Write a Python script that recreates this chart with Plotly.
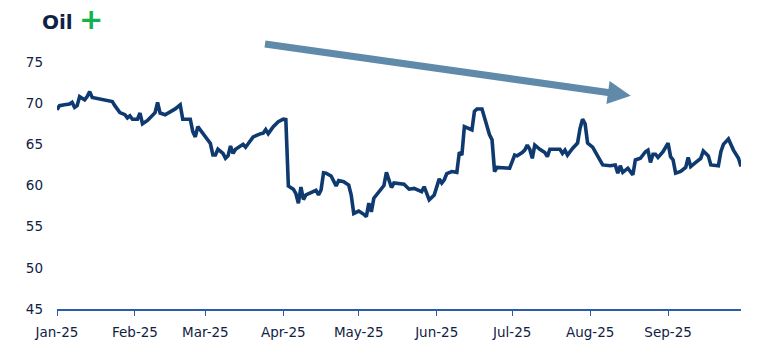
import plotly.graph_objects as go

# ---- data ----
dates = [
    "2025-01-01","2025-01-02","2025-01-04","2025-01-06","2025-01-07","2025-01-08","2025-01-09","2025-01-10",
    "2025-01-11","2025-01-12","2025-01-13","2025-01-14","2025-01-15","2025-01-18","2025-01-21","2025-01-23",
    "2025-01-24","2025-01-26","2025-01-28","2025-01-29","2025-01-30","2025-01-31",
    "2025-02-02","2025-02-03","2025-02-04","2025-02-06","2025-02-09","2025-02-10","2025-02-11","2025-02-13",
    "2025-02-17","2025-02-19","2025-02-20","2025-02-22","2025-02-23","2025-02-24","2025-02-25","2025-02-26","2025-02-28",
    "2025-03-02","2025-03-03","2025-03-04","2025-03-05","2025-03-06","2025-03-08","2025-03-09","2025-03-10",
    "2025-03-11","2025-03-12","2025-03-13","2025-03-16","2025-03-17","2025-03-19","2025-03-20","2025-03-23",
    "2025-03-24","2025-03-25","2025-03-26","2025-03-28","2025-03-30",
    "2025-04-01","2025-04-02","2025-04-03","2025-04-05","2025-04-06","2025-04-07","2025-04-08","2025-04-09",
    "2025-04-10","2025-04-12","2025-04-14","2025-04-15","2025-04-16","2025-04-17","2025-04-18","2025-04-20",
    "2025-04-22","2025-04-23","2025-04-25","2025-04-27","2025-04-28","2025-04-29",
    "2025-05-01","2025-05-03","2025-05-04","2025-05-05","2025-05-06","2025-05-07","2025-05-09","2025-05-11",
    "2025-05-12","2025-05-13","2025-05-14","2025-05-15","2025-05-18","2025-05-19","2025-05-21","2025-05-23",
    "2025-05-26","2025-05-27","2025-05-29","2025-05-31",
    "2025-06-02","2025-06-03","2025-06-04","2025-06-05","2025-06-07","2025-06-09","2025-06-10","2025-06-11",
    "2025-06-12","2025-06-13","2025-06-15","2025-06-16","2025-06-17","2025-06-19","2025-06-21","2025-06-22",
    "2025-06-23","2025-06-24","2025-06-25","2025-06-30",
    "2025-07-02","2025-07-03","2025-07-05","2025-07-06","2025-07-07","2025-07-08","2025-07-09","2025-07-10",
    "2025-07-12","2025-07-14","2025-07-15","2025-07-16","2025-07-20","2025-07-21","2025-07-22","2025-07-23",
    "2025-07-25","2025-07-27","2025-07-28","2025-07-29","2025-07-30","2025-07-31",
    "2025-08-02","2025-08-03","2025-08-05","2025-08-06","2025-08-09","2025-08-11","2025-08-12","2025-08-13",
    "2025-08-14","2025-08-16","2025-08-18","2025-08-19","2025-08-21","2025-08-23","2025-08-24","2025-08-25",
    "2025-08-26","2025-08-27","2025-08-28","2025-08-30",
    "2025-09-01","2025-09-02","2025-09-03","2025-09-04","2025-09-06","2025-09-08","2025-09-09","2025-09-10",
    "2025-09-12","2025-09-14","2025-09-15","2025-09-17","2025-09-18","2025-09-21","2025-09-22","2025-09-23",
    "2025-09-25","2025-09-27","2025-09-29","2025-09-30",
]
oil_price = [
    69.2,69.7,69.8,69.9,70.1,69.5,69.7,70.8,
    70.6,70.4,70.8,71.4,70.7,70.55,70.4,70.2,
    69.7,68.85,68.6,68.2,68.45,68.05,
    68.05,68.8,67.5,67.9,68.85,70.1,68.8,68.6,
    69.3,69.8,68.05,68.05,68.05,66.55,65.9,67.15,66.35,
    65.45,65.1,63.7,63.7,64.4,63.9,63.3,63.6,
    64.8,63.9,64.4,65.0,64.65,65.6,65.9,66.3,
    66.35,66.8,66.3,67.15,67.75,
    68.05,68.0,59.95,59.55,59.0,57.85,59.8,58.3,
    58.85,59.1,59.4,58.85,59.45,61.55,61.5,61.15,
    59.95,60.6,60.45,60.05,58.85,56.6,
    56.9,56.5,56.2,57.85,56.8,58.45,59.25,60.0,
    61.6,60.65,59.75,60.3,60.15,60.15,59.55,59.65,
    59.25,59.85,58.25,58.85,
    60.8,60.3,60.7,61.45,61.7,61.6,64.05,63.7,
    67.15,67.05,66.75,69.0,69.3,69.3,67.35,66.15,
    65.55,61.7,62.2,62.1,
    63.7,63.6,64.0,64.3,64.9,64.4,63.3,64.9,
    64.4,64.0,63.5,64.4,64.4,63.9,64.3,63.7,
    64.5,65.15,66.95,68.05,67.5,65.15,
    64.65,64.1,63.1,62.5,62.4,62.5,61.5,62.4,
    61.6,62.1,61.3,63.1,63.3,64.1,64.3,62.8,
    63.8,63.8,63.4,64.1,
    65.15,63.5,63.1,61.5,61.7,62.2,63.4,62.3,
    62.8,63.3,64.2,63.6,62.5,62.4,64.1,65.0,
    65.65,64.3,63.3,62.3,
]
month_ticks = ["2025-01-01","2025-02-01","2025-03-01","2025-04-01","2025-05-01",
               "2025-06-01","2025-07-01","2025-08-01","2025-09-01"]
month_labels = ["Jan-25","Feb-25","Mar-25","Apr-25","May-25","Jun-25","Jul-25","Aug-25","Sep-25"]
y_ticks = [45, 50, 55, 60, 65, 70, 75]
title_text = "Oil"

# ---- layout geometry (pixels) ----
W, H = 778, 360
ML, MR, MT, MB = 57, 37, 62, 51
PW, PH = W - ML - MR, H - MT - MB

def px(x, y):
    return (x - ML) / PW, (H - MB - y) / PH

NAVY = "#0f2244"
LINE = "#0e3a70"

fig = go.Figure()
fig.add_trace(go.Scatter(x=dates, y=oil_price, mode="lines",
                         line=dict(color=LINE, width=3.6), hoverinfo="skip",
                         showlegend=False))

# trend arrow (decorative), drawn as a polygon in paper coords
arrow_px = [(265.5, 40.5), (608.5, 89), (609.6, 81.1), (630.8, 95.7),
            (606.4, 103.9), (607.5, 96), (264.5, 47.5)]
pts = [px(a, b) for a, b in arrow_px]
path = "M " + " L ".join(f"{a:.5f},{b:.5f}" for a, b in pts) + " Z"
fig.add_shape(type="path", path=path, xref="paper", yref="paper",
              fillcolor="#5f8aaa", line=dict(width=0), layer="above")

tx, ty = px(40, 22)
fig.add_annotation(text=f"<b>{title_text}</b>", x=tx, y=ty, xref="paper", yref="paper",
                   xanchor="left", yanchor="middle", showarrow=False,
                   font=dict(family="DejaVu Sans", size=20, color=NAVY))
gx, gy = px(90.5, 19)
fig.add_annotation(text="<b>+</b>", x=gx, y=gy, xref="paper", yref="paper",
                   xanchor="center", yanchor="middle", showarrow=False,
                   font=dict(family="DejaVu Sans", size=29, color="#13b24f"))

fig.update_layout(
    width=W, height=H, margin=dict(l=ML, r=MR, t=MT, b=MB, autoexpand=False),
    paper_bgcolor="white", plot_bgcolor="white",
    font=dict(family="DejaVu Sans", size=13.5, color=NAVY),
    showlegend=False,
)
fig.update_xaxes(range=["2025-01-01", "2025-09-30"], tickvals=month_ticks, ticktext=month_labels,
                 showgrid=False, zeroline=False, showline=True, linecolor="#2a5caa", linewidth=1.5,
                 ticks="outside", ticklen=5, tickwidth=1.2, tickcolor="#2a5caa",
                 ticklabelstandoff=5,
                 tickfont=dict(family="DejaVu Sans", size=13.5, color=NAVY))
fig.update_yaxes(range=[45, 75], tickvals=y_ticks, showgrid=False, zeroline=False,
                 showline=False, ticks="", ticklabelstandoff=13,
                 tickfont=dict(family="DejaVu Sans", size=13.5, color=NAVY))

fig.write_html("out.html", config={"displayModeBar": False},
               post_script="document.body.style.margin='0px';")
